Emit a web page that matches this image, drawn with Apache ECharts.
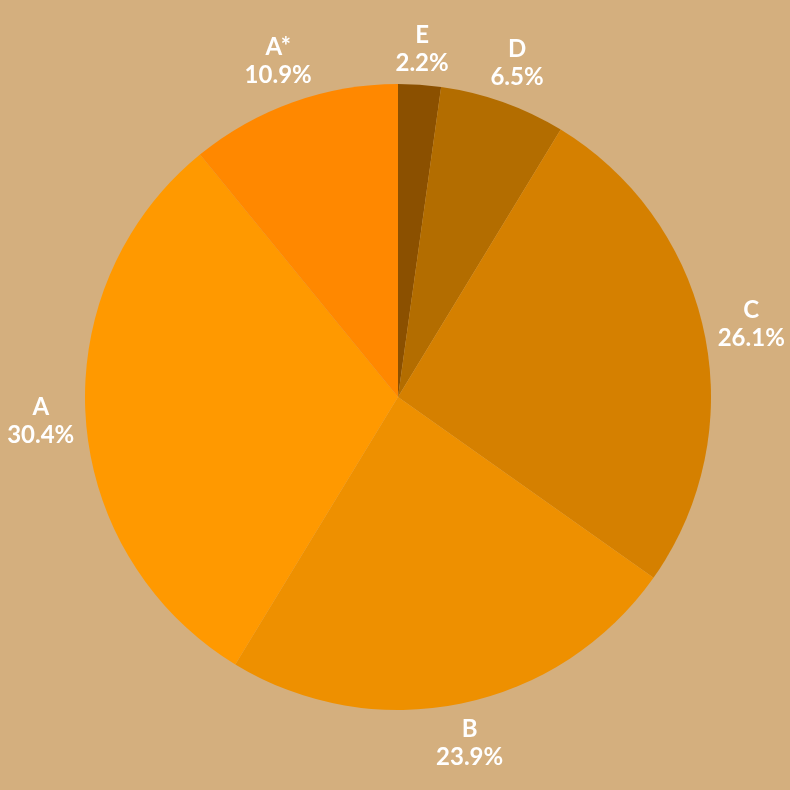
<!DOCTYPE html>
<html>
<head>
<meta charset="utf-8">
<script src="https://cdn.jsdelivr.net/npm/echarts@6/dist/echarts.min.js"></script>
<style>
  html, body { margin: 0; padding: 0; background: #D4AF7E; }
  #chart { width: 790px; height: 790px; }
</style>
</head>
<body>
<div id="chart"></div>
<script>
// slices clockwise from 12 o'clock
const names = ['E', 'D', 'C', 'B', 'A', 'A*'];
const shares = [2.2, 6.5, 26.1, 23.9, 30.4, 10.9];
const colors = ['#8B5000', '#B36D00', '#D58000', '#EE9000', '#FF9900', '#FF8800'];

const cx = 398, cy = 397, R = 313;
const total = shares.reduce((a, b) => a + b, 0);

// mid angle of each slice (radians, clockwise from top)
const mids = [];
let acc = 0;
shares.forEach(v => {
  mids.push((acc + v / 2) / total * Math.PI * 2);
  acc += v;
});

const chart = echarts.init(document.getElementById('chart'));
chart.setOption({
  backgroundColor: '#D4AF7E',
  animation: false,
  series: [{
    type: 'pie',
    center: [cx, cy],
    radius: [0, R],
    startAngle: 90,
    clockwise: true,
    silent: true,
    avoidLabelOverlap: false,
    itemStyle: { borderWidth: 0 },
    labelLine: { show: false, length: 0, length2: 0 },
    label: {
      show: true,
      position: 'outside',
      overflow: 'none',
      edgeDistance: 0,
      color: '#ffffff',
      fontFamily: 'Lato',
      fontWeight: 'bold',
      fontSize: 24,
      lineHeight: 28,
      formatter: p => p.name + '\n' + p.value.toFixed(1) + '%'
    },
    // place each label box just outside the rim, centred on the slice direction
    labelLayout: function (params) {
      const a = mids[params.dataIndex];
      const dx = Math.sin(a), dy = -Math.cos(a);
      const w = params.labelRect.width, h = params.labelRect.height - 8;
      const d = R + 10 + Math.abs(dx) * w / 2 + Math.abs(dy) * h / 2;
      return { x: cx + dx * d, y: cy + dy * d, align: 'center', verticalAlign: 'middle' };
    },
    data: names.map((n, i) => ({ name: n, value: shares[i], itemStyle: { color: colors[i] } }))
  }]
});
</script>
</body>
</html>
